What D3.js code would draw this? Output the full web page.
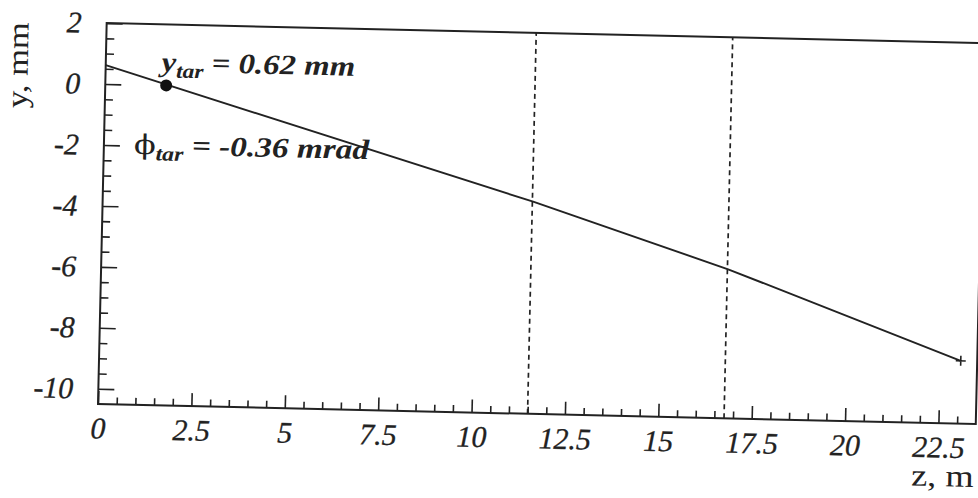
<!DOCTYPE html>
<html>
<head>
<meta charset="utf-8">
<script src="https://cdn.jsdelivr.net/npm/d3@7"></script>
<style>
  body { margin: 0; background: #fff; }
  svg { display: block; }
</style>
</head>
<body>
<div id="chart"></div>
<script>
(function() {

  // trajectory: z in m, y in mm
  var trackZ = [0, 11.52, 16.78, 23.06],
      trackY = [0.62, -3.54, -5.61, -8.44];

  var targetZ = 1.63, targetY = 0;
  var endZ = 23.06, endY = -8.44;

  var dashedZ = [11.5, 16.76];

  var xMajor = [0, 2.5, 5, 7.5, 10, 12.5, 15, 17.5, 20, 22.5],
      yMajor = [-10, -8, -6, -4, -2, 0, 2];

  var xMinor = d3.range(0.5, 23.01, 0.5).filter(function(d) { return d % 2.5 !== 0; }),
      yMinor = d3.range(-10, 2.01, 0.5).filter(function(d) { return d % 2 !== 0; });

  var width = 978, height = 498,
      frameW = 878, frameH = 381,
      angle = 1.305; // the scan is slightly tilted

  var x = d3.scaleLinear().domain([0, 23.5]).range([0, frameW]);
  var y = d3.scaleLinear().domain([-10.5, 2]).range([0, -frameH]);

  var svg = d3.select('#chart')
    .append('svg')
    .attr('width', width)
    .attr('height', height);

  var g = svg.append('g')
    .attr('transform', 'translate(98,404) rotate(' + angle + ')');

  var ink = '#222',
      font = '"Liberation Serif", "Times New Roman", serif';

  // minor ticks
  g.append('g')
    .call(d3.axisBottom(x).tickValues(xMinor).tickSize(-7).tickFormat(''))
    .call(function(a) { a.select('.domain').remove(); })
    .selectAll('line').attr('stroke', ink).attr('stroke-width', 1.6);

  g.append('g')
    .call(d3.axisLeft(y).tickValues(yMinor).tickSize(-8).tickFormat(''))
    .call(function(a) { a.select('.domain').remove(); })
    .selectAll('line').attr('stroke', ink).attr('stroke-width', 1.6);

  // major ticks with labels
  var xAxis = g.append('g')
    .call(d3.axisBottom(x).tickValues(xMajor).tickSize(-13).tickPadding(13)
      .tickFormat(function(d) { return String(d); }));
  xAxis.select('.domain').remove();
  xAxis.selectAll('line').attr('stroke', ink).attr('stroke-width', 1.6);
  xAxis.selectAll('text')
    .style('font-family', font)
    .style('font-style', 'italic')
    .style('font-size', '30px')
    .attr('fill', ink)
    .attr('stroke', ink)
    .attr('stroke-width', 0.3);

  var yAxis = g.append('g')
    .call(d3.axisLeft(y).tickValues(yMajor).tickSize(-16).tickPadding(25)
      .tickFormat(function(d) { return String(d); }));
  yAxis.select('.domain').remove();
  yAxis.selectAll('line').attr('stroke', ink).attr('stroke-width', 1.6);
  yAxis.selectAll('text')
    .style('font-family', font)
    .style('font-style', 'italic')
    .style('font-size', '30px')
    .attr('fill', ink)
    .attr('stroke', ink)
    .attr('stroke-width', 0.3);

  // frame
  g.append('rect')
    .attr('x', x(0))
    .attr('y', y(2))
    .attr('width', x(23.5) - x(0))
    .attr('height', y(-10.5) - y(2))
    .attr('fill', 'none')
    .attr('stroke', ink)
    .attr('stroke-width', 2);

  // dashed verticals
  g.selectAll('.vline')
    .data(dashedZ)
    .enter()
    .append('line')
    .attr('class', 'vline')
    .attr('x1', function(d) { return x(d); })
    .attr('x2', function(d) { return x(d); })
    .attr('y1', y(-10.5))
    .attr('y2', y(2))
    .attr('stroke', ink)
    .attr('stroke-width', 1.7)
    .attr('stroke-dasharray', '5,4');

  // trajectory
  var line = d3.line()
    .x(function(d) { return x(d[0]); })
    .y(function(d) { return y(d[1]); });

  g.append('path')
    .datum(d3.zip(trackZ, trackY))
    .attr('d', line)
    .attr('fill', 'none')
    .attr('stroke', ink)
    .attr('stroke-width', 1.9);

  // target point
  g.append('circle')
    .attr('cx', x(targetZ))
    .attr('cy', y(targetY))
    .attr('r', 6)
    .attr('fill', '#111');

  // end marker
  g.append('path')
    .attr('d', 'M' + (x(endZ) - 5) + ',' + y(endY) + 'h10M' + x(endZ) + ',' + (y(endY) - 5) + 'v10')
    .attr('stroke', ink)
    .attr('stroke-width', 1.6);

  // axis titles
  g.append('text')
    .attr('transform', 'translate(-78,-380) rotate(-90) scale(1.15,1)')
    .attr('text-anchor', 'end')
    .style('font-family', font)
    .style('font-size', '30px')
    .attr('fill', ink)
    .text('y,  mm');

  g.append('text')
    .attr('transform', 'translate(877,63) scale(1.17,1)')
    .attr('text-anchor', 'end')
    .style('font-family', font)
    .style('font-size', '31px')
    .attr('fill', ink)
    .text('z,  m');

  // annotations
  var t1 = g.append('text')
    .attr('transform', 'translate(56,-334) scale(1.17,1)')
    .style('font-family', font)
    .style('font-style', 'italic')
    .style('font-weight', 'bold')
    .style('font-size', '28px')
    .attr('fill', ink);
  t1.append('tspan').text('y');
  t1.append('tspan').attr('dy', 6).style('font-size', '20px').text('tar');
  t1.append('tspan').attr('dy', -6).text(' = 0.62 mm');

  var t2 = g.append('text')
    .attr('transform', 'translate(30,-251) scale(1.19,1)')
    .style('font-family', font)
    .style('font-style', 'italic')
    .style('font-weight', 'bold')
    .style('font-size', '28px')
    .attr('fill', ink);
  t2.append('tspan')
    .style('font-style', 'normal')
    .style('font-weight', 'normal')
    .style('font-family', '"DejaVu Serif", serif')
    .style('font-size', '27px')
    .text('ϕ');
  t2.append('tspan').attr('dy', 6).style('font-size', '20px').text('tar');
  t2.append('tspan').attr('dy', -6).text(' = -0.36 mrad');

})();
</script>
</body>
</html>
